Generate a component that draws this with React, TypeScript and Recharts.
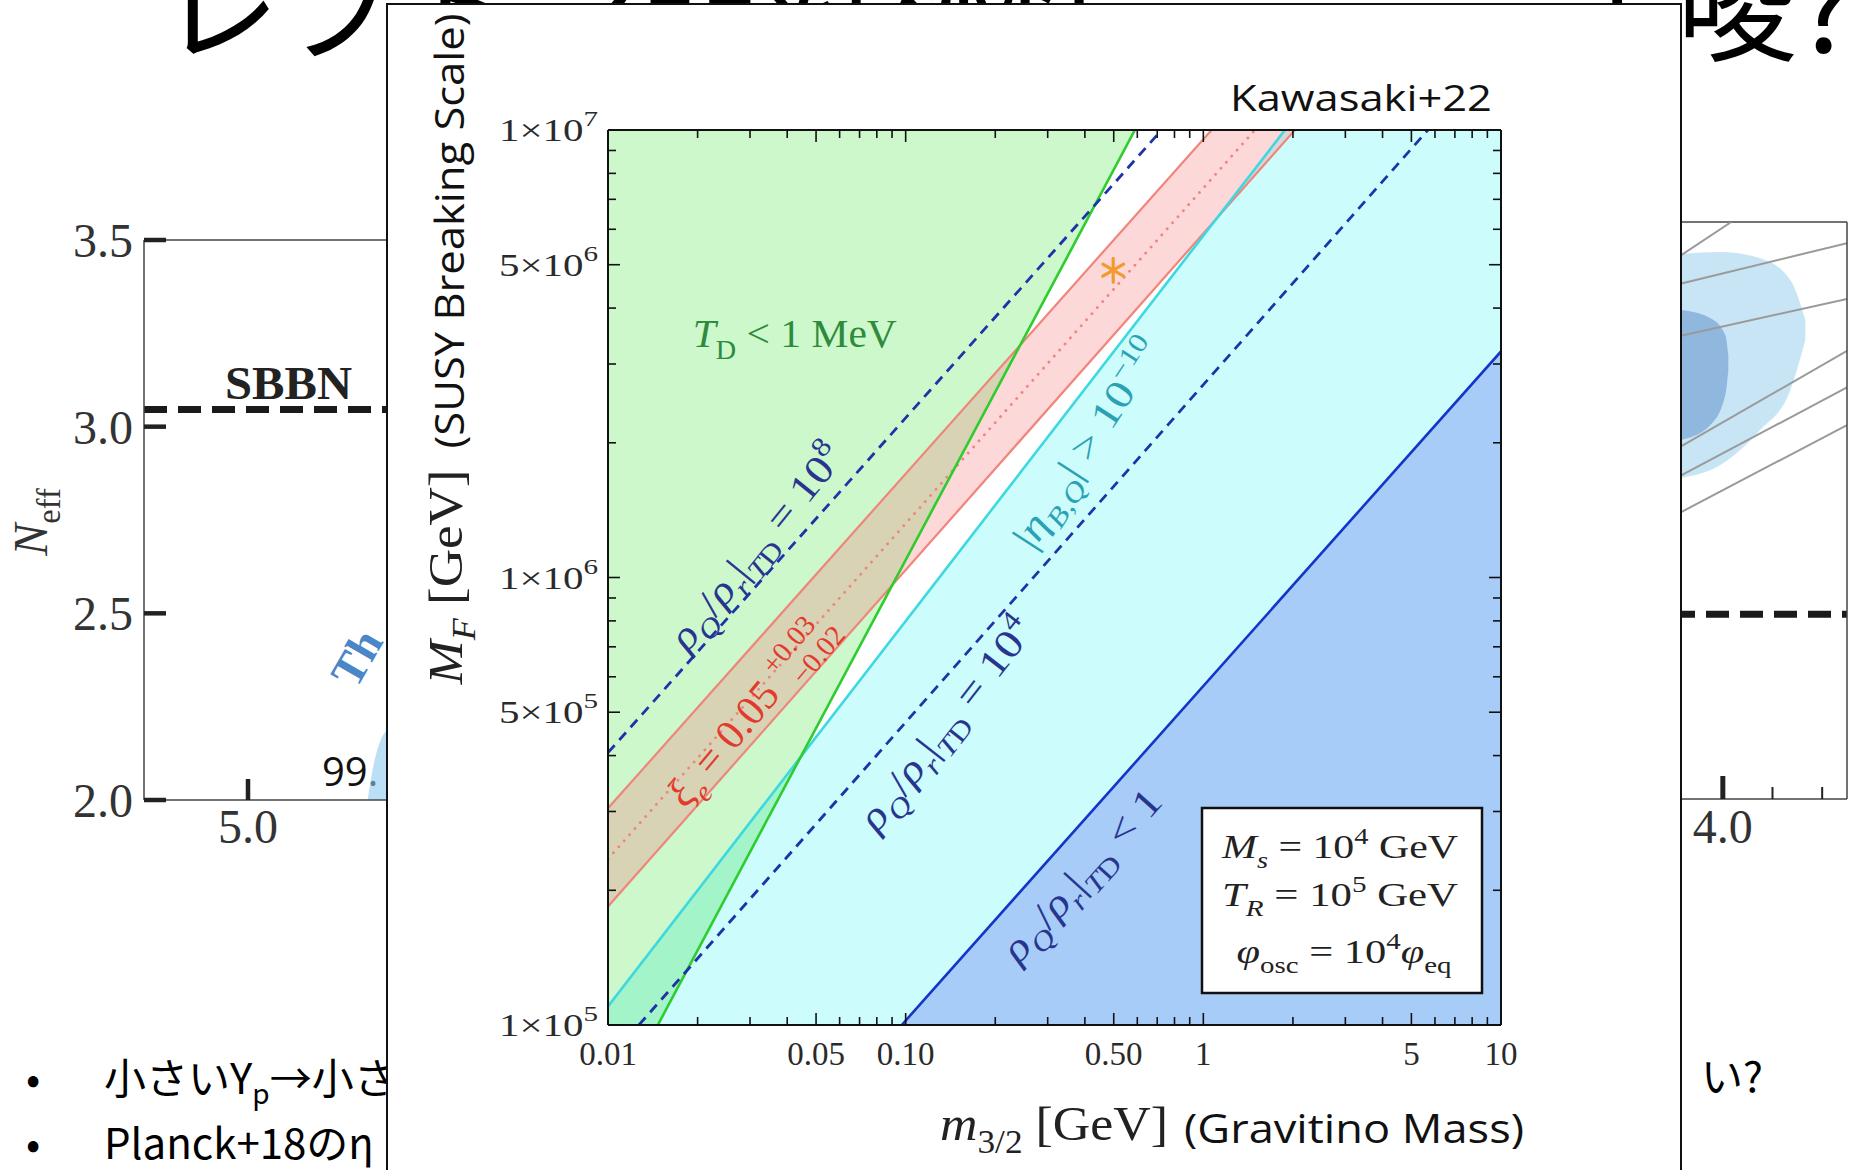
import React from "react";
import {
  ComposedChart,
  Area,
  Line,
  XAxis,
  YAxis,
  ReferenceDot,
  ReferenceLine,
} from "recharts";

const SERIF = '"Liberation Serif", "DejaVu Serif", serif';
const SANS = '"Open Sans", "Liberation Sans", sans-serif';
const JP = '"Noto Sans CJK JP", "Noto Sans", sans-serif';

// ---------- main panel: gravitino mass vs SUSY breaking scale (log-log) ----------
const xDomain = [0.01, 10];
const yDomain = [1e5, 1e7];
const xTicks = [
  0.01, 0.02, 0.03, 0.04, 0.05, 0.06, 0.07, 0.08, 0.09, 0.1, 0.2, 0.3, 0.4, 0.5,
  0.6, 0.7, 0.8, 0.9, 1, 2, 3, 4, 5, 6, 7, 8, 9, 10,
];
const xLabelled = [0.01, 0.05, 0.1, 0.5, 1, 5, 10];
const xLabelText = ["0.01", "0.05", "0.10", "0.50", "1", "5", "10"];
const yTicks = [
  1e5, 2e5, 3e5, 4e5, 5e5, 6e5, 7e5, 8e5, 9e5, 1e6, 2e6, 3e6, 4e6, 5e6, 6e6,
  7e6, 8e6, 9e6, 1e7,
];
const yLabelled = [1e5, 5e5, 1e6, 5e6, 1e7];
const yMantissa = ["1", "5", "1", "5", "1"];
const yExponent = ["5", "5", "6", "6", "7"];

// boundary lines (end points)
const tdLine = [{ x: 0.0147, y: 1e5 }, { x: 0.589, y: 1e7 }];
const etaLine = [{ x: 0.01, y: 1.1e5 }, { x: 1.88, y: 1e7 }];
const xiUpper = [{ x: 0.01, y: 3.05e5 }, { x: 1.066, y: 1e7 }];
const xiCentre = [{ x: 0.01, y: 2.35e5 }, { x: 1.49, y: 1e7 }];
const xiLower = [{ x: 0.01, y: 1.84e5 }, { x: 2.03, y: 1e7 }];
const ratio1e8 = [{ x: 0.01, y: 4.06e5 }, { x: 0.724, y: 1e7 }];
const ratio1e4 = [{ x: 0.0127, y: 1e5 }, { x: 5.68, y: 1e7 }];
const ratio1 = [{ x: 0.097, y: 1e5 }, { x: 10, y: 3.2e6 }];

// shaded regions as [low, high] ranges
const tdRegion = [
  { x: 0.01, r: [1e5, 1e7] },
  { x: 0.0147, r: [1e5, 1e7] },
  { x: 0.589, r: [1e7, 1e7] },
];
const etaRegion = [
  { x: 0.01, r: [1e5, 1.1e5] },
  { x: 1.88, r: [1e5, 1e7] },
  { x: 10, r: [1e5, 1e7] },
];
const xiRegion = [
  { x: 0.01, r: [1.84e5, 3.05e5] },
  { x: 1.066, r: [6.15e6, 1e7] },
  { x: 2.03, r: [1e7, 1e7] },
];
const ratioRegion = [
  { x: 0.097, r: [1e5, 1e5] },
  { x: 10, r: [1e5, 3.2e6] },
];
const benchmark = { x: 0.498, y: 4.86e6 };

// ---------- left background panel (N_eff) ----------
const neffYTicks = [2.0, 2.5, 3.0, 3.5];
const neffXTicks = [5.0];
const sbbnNeff = 3.046;
const neffBlob = [
  { x: 5.46, r: [2.0, 2.0] },
  { x: 5.485, r: [2.0, 2.1] },
  { x: 5.51, r: [2.0, 2.16] },
  { x: 5.54, r: [2.0, 2.19] },
];

// ---------- right background panel ----------
const rightXTicks = [4.0, 4.1, 4.2];
const rightDashed = 2.48;
const outerContour = [
  { x: 3.916, r: [2.834, 3.417] },
  { x: 3.995, r: [2.868, 3.422] },
  { x: 4.075, r: [2.959, 3.406] },
  { x: 4.136, r: [3.063, 3.349] },
  { x: 4.166, r: [3.193, 3.245] },
];
const innerContour = [
  { x: 3.916, r: [2.933, 3.271] },
  { x: 3.975, r: [2.972, 3.25] },
  { x: 4.005, r: [3.05, 3.206] },
  { x: 4.011, r: [3.115, 3.154] },
];
const grayLines = [
  [{ x: 3.9, y: 3.4 }, { x: 4.017, y: 3.5 }],
  [{ x: 3.9, y: 3.335 }, { x: 4.25, y: 3.445 }],
  [{ x: 3.9, y: 3.2 }, { x: 4.25, y: 3.3 }],
  [{ x: 3.9, y: 2.905 }, { x: 4.25, y: 3.165 }],
  [{ x: 3.9, y: 2.83 }, { x: 4.25, y: 3.07 }],
  [{ x: 3.9, y: 2.735 }, { x: 4.25, y: 2.972 }],
];

type Piece = [string, string?, number?];

function MathText({
  x,
  y,
  parts,
  size,
  fill = "#111",
  anchor = "middle",
  angle = 0,
  base = 0,
  length,
  family = SERIF,
  weight,
}: {
  x: number;
  y: number;
  parts: Piece[];
  size: number;
  fill?: string;
  anchor?: string;
  angle?: number;
  base?: number;
  length?: number;
  family?: string;
  weight?: string;
}) {
  let shift = 0;
  const spans = parts.map(([t, kind = "", dx], i) => {
    const sub = kind.includes("b");
    const sup = kind.includes("p");
    const target = sub ? size * 0.28 : sup ? -size * 0.42 : 0;
    const dy = target - shift;
    shift = target;
    return (
      <tspan
        key={i}
        dy={dy}
        dx={dx}
        fontStyle={kind.includes("i") ? "italic" : "normal"}
        fontSize={sub || sup ? size * 0.68 : size}
      >
        {t}
      </tspan>
    );
  });
  return (
    <g transform={`translate(${x} ${y}) rotate(${angle})`}>
      <text
        x={0}
        y={base}
        fill={fill}
        fontFamily={family}
        fontSize={size}
        fontWeight={weight}
        textAnchor={anchor as any}
        textLength={length}
        lengthAdjust={length ? "spacingAndGlyphs" : undefined}
        style={{ whiteSpace: "pre" }}
      >
        {spans}
      </text>
    </g>
  );
}

const rho = (tail: Piece[]): Piece[] => [
  ["ρ", "i"],
  ["Q", "bi"],
  ["/"],
  ["ρ", "i"],
  ["r", "bi"],
  ["|"],
  ["T", "bi"],
  ["D", "b"],
  ...tail,
];

const labels = [
  { x: 0.0424, y: 3.49e6, angle: 0, size: 40, length: 204, fill: "#2f8a3c",
    parts: [["T", "i"], ["D", "b"], [" < 1 MeV"]] as Piece[] },
  { x: 0.0316, y: 1.17e6, angle: -51, size: 40, length: 252, fill: "#27358f",
    parts: rho([[" = 10"], ["8", "p"]]) },
  { x: 0.0303, y: 5.05e5, angle: -50, size: 42, fill: "#e23a2c",
    parts: [["ξ", "i"], ["e", "bi"], [" = 0.05 "], ["+0.03", "p"], ["−0.02", "b", -55]] as Piece[] },
  { x: 0.409, y: 1.99e6, angle: -57, size: 40, length: 240, fill: "#2aa2b4",
    parts: [["|"], ["η", "i"], ["B,Q", "bi"], ["| > 10"], ["−10", "p"]] as Piece[] },
  { x: 0.137, y: 4.7e5, angle: -52, size: 40, length: 258, fill: "#27358f",
    parts: rho([[" = 10"], ["4", "p"]]) },
  { x: 0.391, y: 2.16e5, angle: -48, size: 40, length: 218, fill: "#27358f",
    parts: rho([[" < 1"]]) },
];

const frame = { stroke: "#111", strokeWidth: 2 };
const tickColor = "#111";

function MainBottomTick(p: any) {
  const i = xLabelled.indexOf(p.payload.value);
  return (
    <g>
      <line x1={p.x} x2={p.x} y1={p.y} y2={p.y - (i >= 0 ? 12 : 8)} stroke={tickColor} strokeWidth={1.6} />
      {i >= 0 && (
        <text x={p.x} y={p.y + 40} textAnchor="middle" fontFamily={SERIF} fontSize={33} fill="#2a2a2a">
          {xLabelText[i]}
        </text>
      )}
    </g>
  );
}

function MainTopTick(p: any) {
  const major = xLabelled.includes(p.payload.value);
  return <line x1={p.x} x2={p.x} y1={p.y} y2={p.y + (major ? 12 : 8)} stroke={tickColor} strokeWidth={1.6} />;
}

function MainLeftTick(p: any) {
  const i = yLabelled.indexOf(p.payload.value);
  return (
    <g>
      <line x1={p.x} x2={p.x + (i >= 0 ? 12 : 8)} y1={p.y} y2={p.y} stroke={tickColor} strokeWidth={1.6} />
      {i >= 0 && (
        <text x={p.x - 10} y={p.y + 11} textAnchor="end" fontFamily={SERIF} fontSize={31} fill="#2a2a2a"
          textLength={99} lengthAdjust="spacingAndGlyphs" style={{ whiteSpace: "pre" }}>
          {`${yMantissa[i]}×10`}
          <tspan dy={-15} fontSize={22}>{yExponent[i]}</tspan>
        </text>
      )}
    </g>
  );
}

function MainRightTick(p: any) {
  const major = yLabelled.includes(p.payload.value);
  return <line x1={p.x} x2={p.x - (major ? 12 : 8)} y1={p.y} y2={p.y} stroke={tickColor} strokeWidth={1.6} />;
}

function StarShape(p: any) {
  const r = 12;
  const arms = [90, 30, 150];
  return (
    <g stroke="#f29a2e" strokeWidth={3.2} strokeLinecap="round">
      {arms.map((a) => {
        const dx = r * Math.cos((a * Math.PI) / 180);
        const dy = r * Math.sin((a * Math.PI) / 180);
        return <line key={a} x1={p.cx - dx} y1={p.cy - dy} x2={p.cx + dx} y2={p.cy + dy} />;
      })}
    </g>
  );
}

function MainChart() {
  const common = {
    dataKey: "x",
    type: "number" as const,
    scale: "log" as const,
    domain: xDomain,
    allowDataOverflow: true,
    ticks: xTicks,
    interval: 0 as const,
    tickSize: 0,
    tickMargin: 0,
    axisLine: frame,
  };
  const commonY = {
    type: "number" as const,
    scale: "log" as const,
    domain: yDomain,
    allowDataOverflow: true,
    ticks: yTicks,
    interval: 0 as const,
    tickSize: 0,
    tickMargin: 0,
    axisLine: frame,
  };
  const areaProps = {
    dataKey: "r",
    type: "linear" as const,
    stroke: "none",
    isAnimationActive: false,
    dot: false,
    activeDot: false,
  };
  const lineProps = {
    dataKey: "y",
    type: "linear" as const,
    dot: false,
    activeDot: false,
    isAnimationActive: false,
  };
  return (
    <ComposedChart width={1294} height={1170} margin={{ top: 100, right: 0, bottom: 0, left: 0 }}>
      <XAxis {...common} height={145} tick={MainBottomTick} />
      <XAxis {...common} xAxisId="top" orientation="top" height={30} tick={MainTopTick} />
      <YAxis {...commonY} width={221} tick={MainLeftTick} />
      <YAxis {...commonY} yAxisId="right" orientation="right" width={180} tick={MainRightTick} />

      <Area {...areaProps} data={etaRegion} fill="rgb(0,240,240)" fillOpacity={0.2} />
      <Area {...areaProps} data={tdRegion} fill="rgb(0,220,0)" fillOpacity={0.2} />
      <Area {...areaProps} data={xiRegion} fill="rgb(245,120,120)" fillOpacity={0.29} />
      <Area {...areaProps} data={ratioRegion} fill="#a8ccf8" fillOpacity={1} />

      <Line {...lineProps} data={xiUpper} stroke="#f0857b" strokeWidth={2.2} />
      <Line {...lineProps} data={xiLower} stroke="#f0857b" strokeWidth={2.2} />
      <Line {...lineProps} data={xiCentre} stroke="#f0857b" strokeWidth={2.8} strokeDasharray="0.1 8" strokeLinecap="round" />
      <Line {...lineProps} data={etaLine} stroke="#3dd8e0" strokeWidth={2.6} />
      <Line {...lineProps} data={tdLine} stroke="#2ecc2e" strokeWidth={2.6} />
      <Line {...lineProps} data={ratio1e8} stroke="#1f33a8" strokeWidth={2.8} strokeDasharray="10 7" />
      <Line {...lineProps} data={ratio1e4} stroke="#1f33a8" strokeWidth={2.8} strokeDasharray="10 7" />
      <Line {...lineProps} data={ratio1} stroke="#1535c8" strokeWidth={2.6} />

      <ReferenceDot x={benchmark.x} y={benchmark.y} r={0} shape={StarShape} />
      {labels.map((l, i) => (
        <ReferenceDot
          key={i}
          x={l.x}
          y={l.y}
          r={0}
          shape={(p: any) => (
            <MathText
              x={p.cx}
              y={p.cy}
              parts={l.parts}
              size={l.size}
              fill={l.fill}
              angle={l.angle}
              base={l.size * 0.32}
              length={l.length}
            />
          )}
        />
      ))}
    </ComposedChart>
  );
}

function NeffYTick(p: any) {
  return (
    <g>
      <line x1={p.x} x2={p.x + 22} y1={p.y} y2={p.y} stroke="#222" strokeWidth={4.5} />
      <text x={p.x - 11} y={p.y + 17} textAnchor="end" fontFamily={SERIF} fontSize={48} fill="#333">
        {p.payload.value.toFixed(1)}
      </text>
    </g>
  );
}

function NeffXTick(p: any) {
  return (
    <g>
      <line x1={p.x} x2={p.x} y1={p.y} y2={p.y - 21} stroke="#222" strokeWidth={4.5} />
      <text x={p.x} y={p.y + 43} textAnchor="middle" fontFamily={SERIF} fontSize={48} fill="#333">
        {p.payload.value.toFixed(1)}
      </text>
    </g>
  );
}

function NeffChart() {
  return (
    <ComposedChart width={800} height={900} margin={{ top: 240, right: 84, bottom: 0, left: 0 }}>
      <XAxis dataKey="x" type="number" domain={[4.6, 6.8]} allowDataOverflow ticks={neffXTicks} interval={0}
        height={100} tickSize={0} tickMargin={0} axisLine={{ stroke: "#444", strokeWidth: 1.5 }} tick={NeffXTick} />
      <YAxis type="number" domain={[2, 3.5]} allowDataOverflow ticks={neffYTicks} interval={0}
        width={144} tickSize={0} tickMargin={0} axisLine={{ stroke: "#444", strokeWidth: 1.5 }} tick={NeffYTick} />
      <ReferenceLine y={3.5} stroke="#444" strokeWidth={1.5} />
      <Area data={neffBlob} dataKey="r" type="monotone" stroke="none" fill="#8ec9ef" isAnimationActive={false} dot={false} activeDot={false} />
      <ReferenceLine y={sbbnNeff} stroke="#1a1a1a" strokeWidth={7} strokeDasharray="23 11" />
    </ComposedChart>
  );
}

function RightXTick(p: any) {
  const major = p.payload.value === 4.0;
  return (
    <g>
      <line x1={p.x} x2={p.x} y1={p.y} y2={p.y - (major ? 23 : 12)} stroke="#222" strokeWidth={major ? 5 : 2} />
      {major && (
        <text x={p.x} y={p.y + 44} textAnchor="middle" fontFamily={SERIF} fontSize={48} fill="#333">
          {p.payload.value.toFixed(1)}
        </text>
      )}
    </g>
  );
}

function RightChart() {
  return (
    <ComposedChart width={554} height={900} margin={{ top: 222, right: 0, bottom: 0, left: 100 }}>
      <XAxis dataKey="x" type="number" domain={[3.35, 4.25]} allowDataOverflow ticks={rightXTicks} interval={0}
        height={101} tickSize={0} tickMargin={0} axisLine={{ stroke: "#444", strokeWidth: 1.5 }} tick={RightXTick} />
      <YAxis type="number" domain={[2, 3.5]} allowDataOverflow hide />
      <YAxis yAxisId="r" orientation="right" type="number" domain={[2, 3.5]} allowDataOverflow width={7}
        tick={false} tickLine={false} axisLine={{ stroke: "#444", strokeWidth: 1.5 }} />
      <ReferenceLine y={3.5} stroke="#444" strokeWidth={1.5} />
      <Area data={outerContour} dataKey="r" type="monotone" stroke="none" fill="#a3d3f0" isAnimationActive={false} dot={false} activeDot={false} />
      <Area data={innerContour} dataKey="r" type="monotone" stroke="none" fill="#6b98cf" isAnimationActive={false} dot={false} activeDot={false} />
      {grayLines.map((d, i) => (
        <Line key={i} data={d} dataKey="y" type="linear" stroke="#9a9a9a" strokeWidth={2} dot={false} activeDot={false} isAnimationActive={false} />
      ))}
      <ReferenceLine y={rightDashed} stroke="#1a1a1a" strokeWidth={7} strokeDasharray="23 11" />
    </ComposedChart>
  );
}

export default function App() {
  return (
    <div style={{ position: "fixed", left: 0, top: 0, width: 1854, height: 1170, overflow: "hidden", background: "#fff", fontFamily: SERIF }}>
      {/* slide background */}
      <svg width={1854} height={1170} style={{ position: "absolute", left: 0, top: 0 }}>
        <text x={160} y={52} fontFamily={JP} fontSize={120} fill="#000">レプトン非対称性</text>
        <text x={1557} y={52} fontFamily={JP} fontSize={120} fill="#000">示唆?</text>
        <text x={26} y={1094} fontFamily={JP} fontSize={42}>•</text>
        <text x={104} y={1094} fontFamily={JP} fontSize={42} style={{ whiteSpace: "pre" }}>
          小さいY<tspan dy={10} fontSize={28}>p</tspan><tspan dy={-10}>→小さいη</tspan>
        </text>
        <text x={26} y={1159} fontFamily={JP} fontSize={42}>•</text>
        <text x={104} y={1159} fontFamily={JP} fontSize={42}>Planck+18のη</text>
        <text x={1701} y={1092} fontFamily={JP} fontSize={42}>い?</text>
        <text x={225} y={399} fontFamily={SERIF} fontWeight="bold" fontSize={46} fill="#222" textLength={127} lengthAdjust="spacingAndGlyphs">SBBN</text>
        <MathText x={47} y={522} angle={-90} size={48} fill="#333" parts={[["N", "i"], ["eff", "b"]]} />
        <text x={322} y={786} fontFamily={SANS} fontSize={40} fill="#111">99.</text>
        <MathText x={356} y={690} angle={-60} size={46} anchor="start" weight="bold" fill="#4a86c8" parts={[["Th"]]} />
      </svg>
      <div style={{ position: "absolute", left: 0, top: 0 }}>
        <NeffChart />
      </div>
      <div style={{ position: "absolute", left: 1300, top: 0 }}>
        <RightChart />
      </div>

      {/* overlaid figure panel */}
      <div style={{ position: "absolute", left: 386, top: 3, width: 1296, height: 1180, background: "#fff", border: "2px solid #111", boxSizing: "border-box" }} />
      <div style={{ position: "absolute", left: 387, top: 0 }}>
        <MainChart />
      </div>
      <svg width={1854} height={1170} style={{ position: "absolute", left: 0, top: 0, pointerEvents: "none" }}>
        <text x={1230} y={111} fontFamily={SANS} fontSize={36} fill="#111" textLength={262} lengthAdjust="spacingAndGlyphs">Kawasaki+22</text>
        <text transform="translate(464 231) rotate(-90)" x={0} y={0} textAnchor="middle" fontFamily={SANS} fontSize={41} fill="#111" textLength={435} lengthAdjust="spacingAndGlyphs">(SUSY Breaking Scale)</text>
        <MathText x={462} y={577} angle={-90} size={48} fill="#222" length={215} parts={[["M", "i"], ["F", "bi"], [" [GeV]"]]} />
        <MathText x={940} y={1140} size={48} anchor="start" fill="#222" length={228} parts={[["m", "i"], ["3/2", "b"], [" [GeV]"]]} />
        <text x={1184} y={1143} fontFamily={SANS} fontSize={41} fill="#111" textLength={340} lengthAdjust="spacingAndGlyphs">(Gravitino Mass)</text>

        <rect x={1202} y={808} width={280} height={185} fill="#fff" stroke="#111" strokeWidth={2.5} />
        <MathText x={1340} y={858} size={34} fill="#222" length={236} parts={[["M", "i"], ["s", "bi"], [" = 10"], ["4", "p"], [" GeV"]]} />
        <MathText x={1340} y={906} size={34} fill="#222" length={236} parts={[["T", "i"], ["R", "bi"], [" = 10"], ["5", "p"], [" GeV"]]} />
        <MathText x={1344} y={963} size={34} fill="#222" length={215} parts={[["φ", "i"], ["osc", "b"], [" = 10"], ["4", "p"], ["φ", "i"], ["eq", "b"]]} />
      </svg>
    </div>
  );
}
